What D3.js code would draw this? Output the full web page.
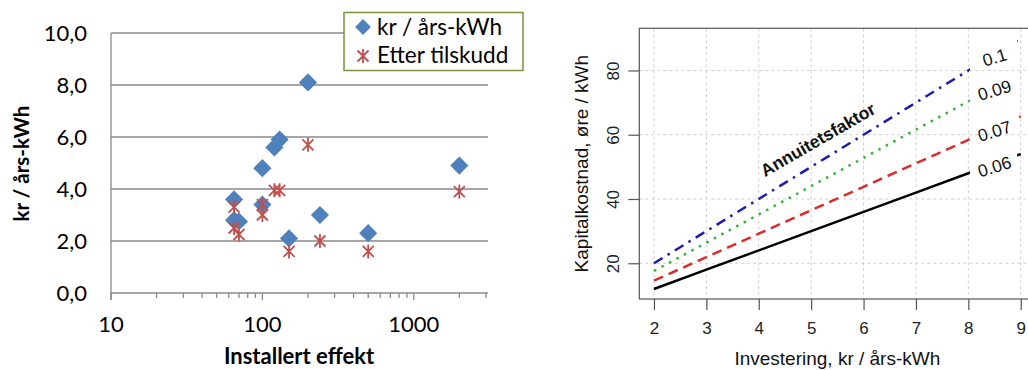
<!DOCTYPE html>
<html>
<head>
<meta charset="utf-8">
<script src="https://cdn.jsdelivr.net/npm/d3@7"></script>
<style>
  body { margin: 0; background: #fff; }
  svg { display: block; }
</style>
</head>
<body>
<div id="chart"></div>
<script>
// ---- Left chart data: cost per installed effect ----
var effekt = [65, 65, 70, 100, 100, 120, 130, 150, 200, 240, 500, 2000];
var krPerKWh = [3.6, 2.8, 2.75, 4.8, 3.4, 5.6, 5.9, 2.1, 8.1, 3.0, 2.3, 4.9];
var etterTilskudd = [3.3, 2.5, 2.25, 3.4, 3.0, 3.95, 3.95, 1.6, 5.7, 2.0, 1.6, 3.9];
var leftYTicks = [0, 2, 4, 6, 8, 10];
var leftXTicks = [10, 100, 1000];
var legendNames = ["kr / års-kWh", "Etter tilskudd"];

// ---- Right chart data: capital cost vs investment ----
var investering = [2, 3, 4, 5, 6, 7, 8, 9];
var kost006 = [12, 18, 24, 30, 36, 42, 48, 54];
var kost007 = [14.6, 21.9, 29.2, 36.5, 43.8, 51.1, 58.4, 65.7];
var kost009 = [17.6, 26.4, 35.2, 44, 52.8, 61.6, 70.4, 79.2];
var kost010 = [20, 30, 40, 50, 60, 70, 80, 90];
var faktorLabels = ["0.06", "0.07", "0.09", "0.1"];
var rightYTicks = [20, 40, 60, 80];

var svg = d3.select("#chart")
    .append("svg")
    .attr("width", 1028)
    .attr("height", 370);

// ================= LEFT CHART =================
var leftFont = "Lato, 'Open Sans', sans-serif";
var gridGray = "#898989";

var xLeft = d3.scaleLog().domain([10, 3000]).range([111, 486]);
var yLeft = d3.scaleLinear().domain([0, 10]).range([293, 33]);

var left = svg.append("g");

// horizontal gridlines
left.selectAll(".hgrid")
    .data(leftYTicks.filter(d => d > 0))
    .enter().append("line")
    .attr("x1", xLeft(10)).attr("x2", xLeft(3000) + 2)
    .attr("y1", d => yLeft(d)).attr("y2", d => yLeft(d))
    .attr("stroke", gridGray).attr("stroke-width", 1.3);

// axes lines
left.append("line")
    .attr("x1", xLeft(10)).attr("x2", xLeft(3000) + 2)
    .attr("y1", yLeft(0)).attr("y2", yLeft(0))
    .attr("stroke", gridGray).attr("stroke-width", 1.3);
left.append("line")
    .attr("x1", xLeft(10)).attr("x2", xLeft(10))
    .attr("y1", yLeft(10)).attr("y2", yLeft(0) + 7)
    .attr("stroke", gridGray).attr("stroke-width", 1.3);

// log ticks (major & minor)
left.selectAll(".xtick")
    .data(xLeft.ticks())
    .enter().append("line")
    .attr("x1", d => xLeft(d)).attr("x2", d => xLeft(d))
    .attr("y1", yLeft(0))
    .attr("y2", d => yLeft(0) + (leftXTicks.indexOf(d) >= 0 ? 7 : 5))
    .attr("stroke", gridGray).attr("stroke-width", 1.3);

// tick labels
left.selectAll(".ylab")
    .data(leftYTicks)
    .enter().append("text")
    .attr("x", 87)
    .attr("y", d => yLeft(d) + 8)
    .attr("text-anchor", "end")
    .style("font-family", leftFont)
    .style("font-size", "22px")
    .attr("fill", "#000")
    .text(d => d3.format(".1f")(d).replace(".", ","));

left.selectAll(".xlab")
    .data(leftXTicks)
    .enter().append("text")
    .attr("x", d => xLeft(d))
    .attr("y", 332)
    .attr("text-anchor", "middle")
    .style("font-family", leftFont)
    .style("font-size", "22px")
    .text(d => d);

// axis titles
left.append("text")
    .attr("transform", "translate(29,163.5) rotate(-90)")
    .attr("text-anchor", "middle")
    .style("font-family", leftFont)
    .style("font-size", "20.5px")
    .style("font-weight", "bold")
    .text("kr / års-kWh");

left.append("text")
    .attr("x", 299).attr("y", 364)
    .attr("text-anchor", "middle")
    .style("font-family", leftFont)
    .style("font-size", "22px")
    .style("font-weight", "bold")
    .text("Installert effekt");

// marker shapes
var diamondPath = d3.symbol(d3.symbolSquare, 165)();
var starPath = "M-5.5,-5.5L5.5,5.5M-5.5,5.5L5.5,-5.5M0,-7L0,7";
var blue = "#4f81bd", red = "#c0504d";

left.selectAll(".kr")
    .data(effekt)
    .enter().append("path")
    .attr("d", diamondPath)
    .attr("transform", (d, i) => `translate(${xLeft(d)},${yLeft(krPerKWh[i])}) rotate(45)`)
    .attr("fill", blue);

left.selectAll(".etter")
    .data(effekt)
    .enter().append("path")
    .attr("d", starPath)
    .attr("transform", (d, i) => `translate(${xLeft(d)},${yLeft(etterTilskudd[i])})`)
    .attr("fill", "none")
    .attr("stroke", red)
    .attr("stroke-width", 1.8);

// legend
var legend = left.append("g");
legend.append("rect")
    .attr("x", 344).attr("y", 12.5)
    .attr("width", 179).attr("height", 58)
    .attr("fill", "#fff")
    .attr("stroke", "#77933c")
    .attr("stroke-width", 1.5);
legend.append("path")
    .attr("d", d3.symbol(d3.symbolSquare, 125)())
    .attr("transform", "translate(363,27) rotate(45)")
    .attr("fill", blue);
legend.append("path")
    .attr("d", starPath)
    .attr("transform", "translate(363,56)")
    .attr("fill", "none")
    .attr("stroke", red)
    .attr("stroke-width", 1.8);
legend.selectAll(".legtext")
    .data(legendNames)
    .enter().append("text")
    .attr("x", 377)
    .attr("y", (d, i) => 35 + i * 28)
    .style("font-family", leftFont)
    .style("font-size", "22.5px")
    .text(d => d);

// ================= RIGHT CHART =================
var rightFont = "'Liberation Sans', Arial, sans-serif";
var boxColor = "#555";

var xRight = d3.scaleLinear().domain([1.72, 9.28]).range([639.3, 1035.4]);
var yRight = d3.scaleLinear().domain([8.88, 93.12]).range([299, 28.3]);

var right = svg.append("g");

// gridlines
right.selectAll(".vgrid")
    .data(investering)
    .enter().append("line")
    .attr("x1", d => xRight(d)).attr("x2", d => xRight(d))
    .attr("y1", yRight.range()[1]).attr("y2", yRight.range()[0])
    .attr("stroke", "#cfcfcf").attr("stroke-dasharray", "3,3");
right.selectAll(".hgrid")
    .data(rightYTicks)
    .enter().append("line")
    .attr("x1", xRight.range()[0]).attr("x2", xRight.range()[1])
    .attr("y1", d => yRight(d)).attr("y2", d => yRight(d))
    .attr("stroke", "#cfcfcf").attr("stroke-dasharray", "3,3");

// gap in the curves where the factor labels sit
var defs = svg.append("defs");
var mask = defs.append("mask").attr("id", "labelgap");
mask.append("rect")
    .attr("x", 0).attr("y", 0).attr("width", 1100).attr("height", 370)
    .attr("fill", "#fff");
mask.append("rect")
    .attr("x", xRight(8.03)).attr("y", 0)
    .attr("width", xRight(8.93) - xRight(8.03)).attr("height", 370)
    .attr("fill", "#000");

var series = [
    { values: kost006, color: "#000000", dash: null },
    { values: kost007, color: "#dd2a2a", dash: "10,6" },
    { values: kost009, color: "#33b533", dash: "2.5,6" },
    { values: kost010, color: "#1c1cb0", dash: "10,6,2.5,6" }
];

var line = d3.line()
    .x((d, i) => xRight(investering[i]))
    .y(d => yRight(d));

var curves = right.append("g").attr("mask", "url(#labelgap)");
curves.selectAll(".curve")
    .data(series)
    .enter().append("path")
    .attr("d", d => line(d.values))
    .attr("fill", "none")
    .attr("stroke", d => d.color)
    .attr("stroke-width", 2.5)
    .attr("stroke-dasharray", d => d.dash);

// factor labels between x=8 and x=9
right.selectAll(".flab")
    .data(series)
    .enter().append("text")
    .attr("transform", (d, i) => {
        var v = (d.values[6] + d.values[7]) / 2;
        return `translate(${xRight(8.5)},${yRight(v) + 3}) rotate(-17)`;
    })
    .attr("text-anchor", "middle")
    .attr("dy", "0.35em")
    .style("font-family", rightFont)
    .style("font-size", "17.5px")
    .attr("fill", "#111")
    .text((d, i) => faktorLabels[i]);

right.append("text")
    .attr("transform", `translate(${xRight(5.13)},${yRight(58.5)}) rotate(-30)`)
    .attr("text-anchor", "middle")
    .attr("dy", "0.35em")
    .style("font-family", rightFont)
    .style("font-size", "17.5px")
    .style("font-weight", "bold")
    .attr("fill", "#111")
    .text("Annuitetsfaktor");

// box
right.append("rect")
    .attr("x", xRight.range()[0]).attr("y", yRight.range()[1])
    .attr("width", xRight.range()[1] - xRight.range()[0])
    .attr("height", yRight.range()[0] - yRight.range()[1])
    .attr("fill", "none")
    .attr("stroke", boxColor)
    .attr("stroke-width", 1.2);

// axes
var xAxis = d3.axisBottom(xRight).tickValues(investering).tickSize(11).tickPadding(12);
var yAxis = d3.axisLeft(yRight).tickValues(rightYTicks).tickSize(11);

var gx = right.append("g")
    .attr("transform", `translate(0,${yRight.range()[0]})`)
    .call(xAxis);
gx.select(".domain").remove();
gx.selectAll("line").attr("stroke", boxColor).attr("stroke-width", 1.2);
gx.selectAll("text")
    .style("font-family", rightFont)
    .style("font-size", "17px")
    .attr("fill", "#222");

var gy = right.append("g")
    .attr("transform", `translate(${xRight.range()[0]},0)`)
    .call(yAxis);
gy.select(".domain").remove();
gy.selectAll("line").attr("stroke", boxColor).attr("stroke-width", 1.2);
gy.selectAll("text")
    .attr("x", null).attr("dy", null)
    .attr("transform", "translate(-20,0) rotate(-90)")
    .attr("text-anchor", "middle")
    .style("font-family", rightFont)
    .style("font-size", "17px")
    .attr("fill", "#222");

// axis titles
right.append("text")
    .attr("transform", `translate(588,${(yRight.range()[0] + yRight.range()[1]) / 2}) rotate(-90)`)
    .attr("text-anchor", "middle")
    .style("font-family", rightFont)
    .style("font-size", "19px")
    .attr("fill", "#111")
    .text("Kapitalkostnad, øre / kWh");

right.append("text")
    .attr("x", (xRight.range()[0] + xRight.range()[1]) / 2)
    .attr("y", 365)
    .attr("text-anchor", "middle")
    .style("font-family", rightFont)
    .style("font-size", "19px")
    .attr("fill", "#111")
    .text("Investering, kr / års-kWh");
</script>
</body>
</html>
